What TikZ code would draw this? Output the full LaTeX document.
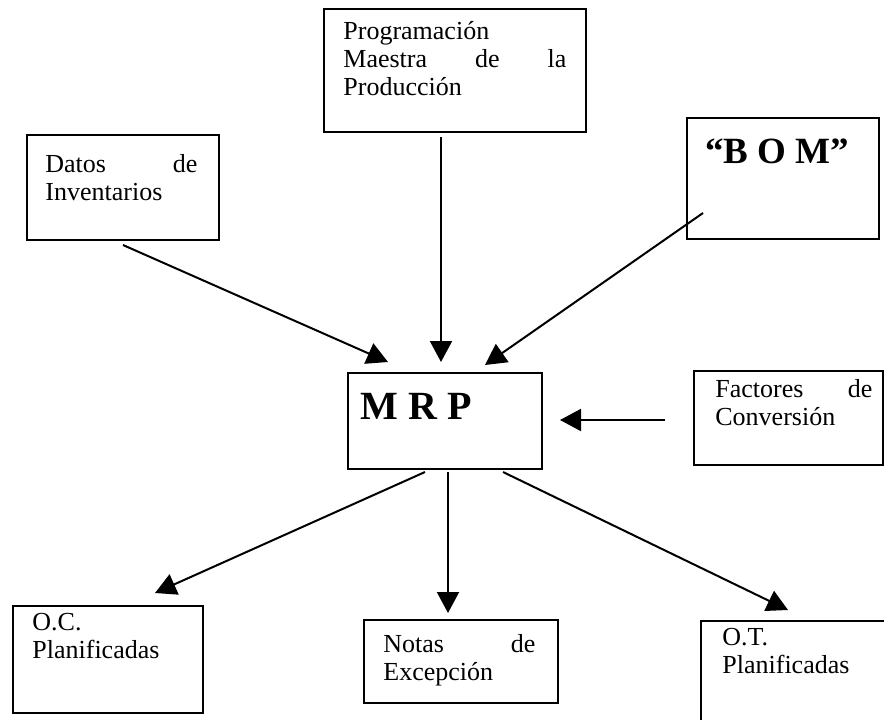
\documentclass[tikz,border=0pt]{standalone}
\usepackage{fontspec}
\setmainfont{Liberation Serif}
\usetikzlibrary{arrows.meta}
% a line of text stretched to a fixed width (justified line)
\newcommand\fitline[2]{\makebox[#1][s]{#2}}
\begin{document}
\begin{tikzpicture}[x=0.5pt,y=-0.5pt,
  box/.style={draw,line width=1pt,inner sep=0pt,anchor=north west},
  txt/.style={anchor=north west,inner sep=0pt,align=left,
    font=\fontsize{13}{14}\selectfont},
  big/.style={anchor=base west,inner sep=0pt,font=\bfseries\fontsize{20}{24}\selectfont},
  arr/.style={line width=1pt,-{Triangle[length=10.5pt,width=11pt]}}]
\useasboundingbox (0,0) rectangle (884,719);
\clip (0,0) rectangle (884,719);

% boxes
\node[box,minimum width=96pt,minimum height=52.5pt]   (datos) at (26,134) {};
\node[box,minimum width=131pt,minimum height=61.5pt]  (prog)  at (323,8) {};
\node[box,minimum width=96pt,minimum height=60.5pt]   (bom)   at (686,117) {};
\node[box,minimum width=97pt,minimum height=48pt]     (mrp)   at (347,372) {};
\node[box,minimum width=94.5pt,minimum height=47pt]   (fact)  at (693,370) {};
\node[box,minimum width=95pt,minimum height=53.5pt]   (oc)    at (12,605) {};
\node[box,minimum width=97pt,minimum height=41.5pt]   (notas) at (363,619) {};
\node[box,minimum width=100pt,minimum height=60pt]    (ot)    at (700,620) {};

% texts
\node[txt] (datos-t) at (45,152.4) {\strut\fitline{76pt}{Datos de}\\Inventarios};
\node[txt] (prog-t)  at (343,19.4) {\strut Programación\\\fitline{111.5pt}{Maestra de la}\\Producción};
\node[big,font=\bfseries\fontsize{18.5}{22}\selectfont] (bom-t) at (705,163) {“B O M”};
\node[big] (mrp-t) at (360,419) {M R P};
\node[txt] (fact-t)  at (715,377.4) {\strut\fitline{78.5pt}{Factores de}\\Conversión};
\node[txt] (oc-t)    at (32,610.4) {\strut O.C.\\Planificadas};
\node[txt] (notas-t) at (383,632.4) {\strut\fitline{76pt}{Notas de}\\Excepción};
\node[txt] (ot-t)    at (722,625.4) {\strut O.T.\\Planificadas};

% connectors into MRP
\draw[arr] ([shift={(97,4)}]datos.south west) -- ([shift={(41,-10)}]mrp.north west);
\draw[arr] ([shift={(118,4)}]prog.south west) -- ([shift={(94,-10)}]mrp.north west);
\draw[arr] ([shift={(17,-27)}]bom.south west) -- ([shift={(138,-7)}]mrp.north west);
\draw[arr] ([shift={(-28,2)}]fact.west) -- ([shift={(17,-1)}]mrp.east);
% connectors out of MRP
\draw[arr] ([shift={(78,2)}]mrp.south west) -- ([shift={(143,-12)}]oc.north west);
\draw[arr] ([shift={(101,2)}]mrp.south west) -- ([shift={(85,-6)}]notas.north west);
\draw[arr] ([shift={(156,2)}]mrp.south west) -- ([shift={(88,-10)}]ot.north west);
\end{tikzpicture}
\end{document}
